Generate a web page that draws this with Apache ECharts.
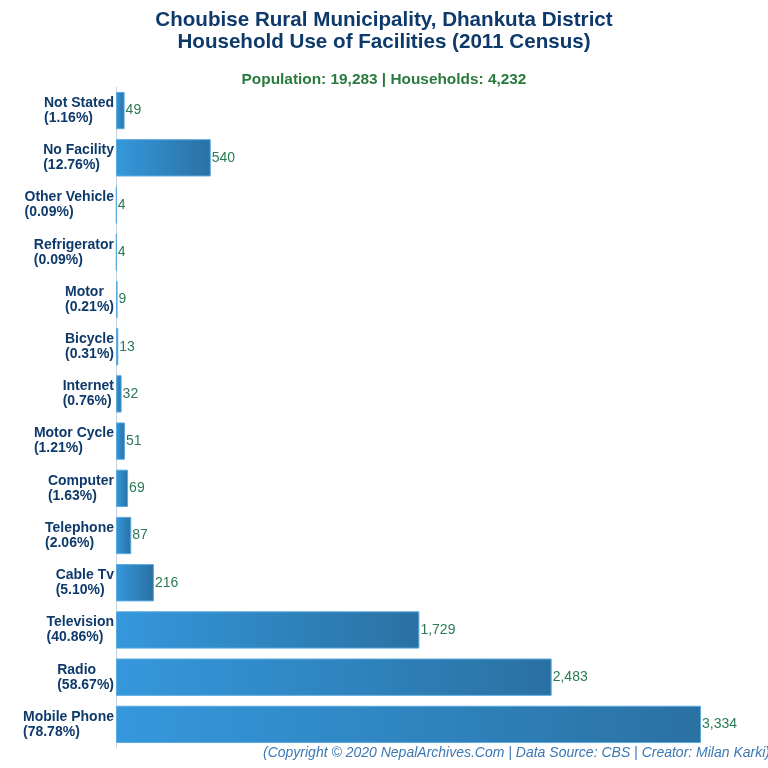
<!DOCTYPE html>
<html>
<head>
<meta charset="utf-8">
<script src="https://cdn.jsdelivr.net/npm/echarts@6/dist/echarts.min.js"></script>
<style>html,body{margin:0;padding:0;background:#fff}#c{width:768px;height:768px}</style>
</head>
<body>
<div id="c"></div>
<script>
const categories = ["Not Stated","No Facility","Other Vehicle","Refrigerator","Motor","Bicycle","Internet","Motor Cycle","Computer","Telephone","Cable Tv","Television","Radio","Mobile Phone"];
const percentLabels = ["(1.16%)","(12.76%)","(0.09%)","(0.09%)","(0.21%)","(0.31%)","(0.76%)","(1.21%)","(1.63%)","(2.06%)","(5.10%)","(40.86%)","(58.67%)","(78.78%)"];
const values = [49,540,4,4,9,13,32,51,69,87,216,1729,2483,3334];
const titleLines = ["Choubise Rural Municipality, Dhankuta District","Household Use of Facilities (2011 Census)"];
const subtitleText = "Population: 19,283 | Households: 4,232";
const footerText = "(Copyright © 2020 NepalArchives.Com | Data Source: CBS | Creator: Milan Karki)";

const FONT = '"Liberation Sans", Arial, sans-serif';
const chart = echarts.init(document.getElementById('c'));
chart.setOption({
  animation:false,
  title:[
    {text:titleLines.join('\n'),left:'center',top:4,textStyle:{fontFamily:FONT,fontWeight:'bold',fontSize:20.6,color:'#0e3a6b',lineHeight:22}},
    {text:subtitleText,left:'center',top:67,textStyle:{fontFamily:FONT,fontWeight:'bold',fontSize:15.4,color:'#2a7a3e'}}
  ],
  graphic:[{type:'text',left:263,top:746,style:{text:footerText,font:'italic 14px "Liberation Sans", Arial, sans-serif',fill:'#3b78b4'}}],
  grid:{left:116,right:67,top:87,bottom:20,containLabel:false},
  xAxis:{type:'value',min:0,max:3334,show:false,splitLine:{show:false}},
  yAxis:{type:'category',data:categories,inverse:true,
    axisLine:{show:true,lineStyle:{color:'#c5d3e3',width:1}},
    axisTick:{show:false},
    axisLabel:{margin:2,align:'right',
      formatter:function(v,i){return '{a|'+v+'}\n{a|'+percentLabels[i]+'}';},
      rich:{a:{fontFamily:FONT,fontWeight:'bold',fontSize:14,color:'#0e3a6b',align:'left',lineHeight:15}}
    }
  },
  series:[{type:'bar',data:values,barCategoryGap:'21%',
    itemStyle:{color:new echarts.graphic.LinearGradient(0,0,1,0,[{offset:0,color:'#3598dc'},{offset:1,color:'#2a71a3'}]),borderColor:'#5aaae0',borderWidth:1},
    label:{show:true,position:'right',distance:1,fontFamily:FONT,fontSize:14,color:'#2a7a55',
      formatter:function(p){return p.value.toLocaleString('en-US');}}
  }]
});
</script>
</body>
</html>
